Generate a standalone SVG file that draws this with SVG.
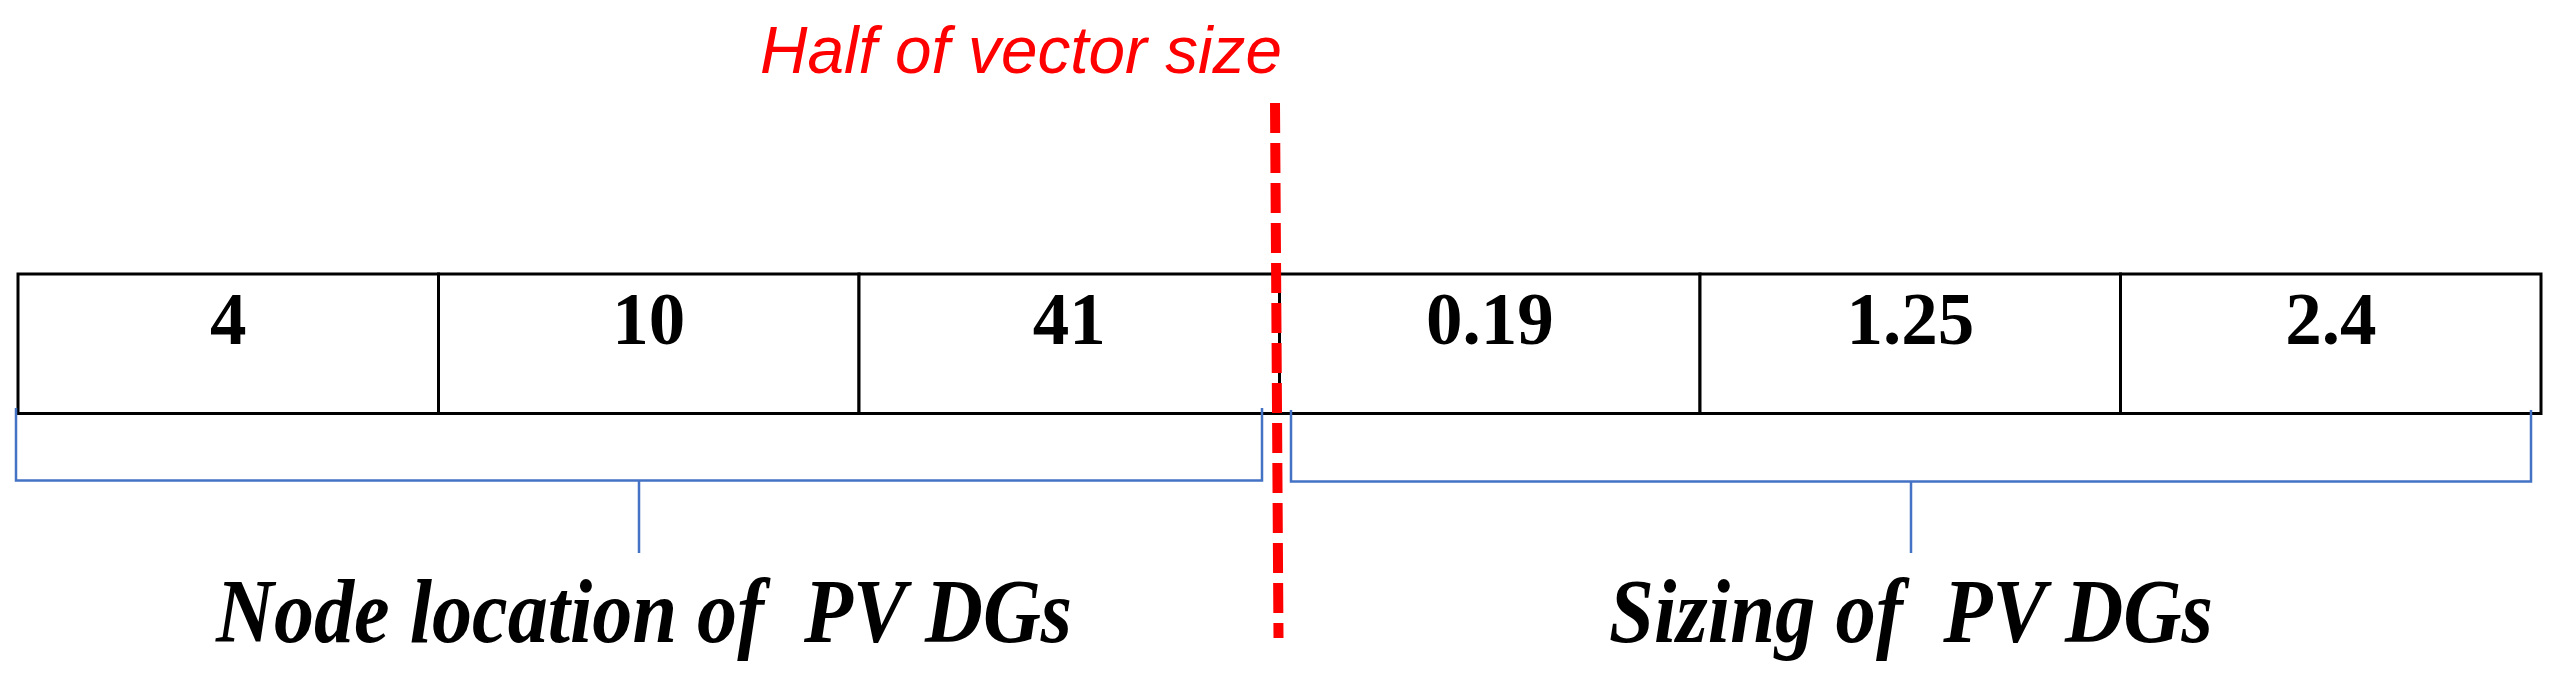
<svg xmlns="http://www.w3.org/2000/svg" width="2574" height="687" viewBox="0 0 2574 687">
  <style>
    .cell { fill: #ffffff; stroke: #000000; stroke-width: 3; }
    .num { font-family: "Liberation Serif", "Times New Roman", serif; font-weight: bold; font-size: 73px; fill: #000000; text-anchor: middle; }
    .brace { fill: none; stroke: #4472C4; stroke-width: 2.5; }
    .label { font-family: "Liberation Serif", "Times New Roman", serif; font-weight: bold; font-style: italic; font-size: 90px; fill: #000000; text-anchor: start; }
    .half { font-family: "Liberation Sans", Arial, sans-serif; font-style: italic; font-size: 66px; fill: #FF0000; text-anchor: start; }
    .divider { fill: none; stroke: #FF0000; stroke-width: 10; stroke-dasharray: 30 10; }
  </style>
  <rect width="2574" height="687" fill="#ffffff"/>

  <g id="cell-1">
    <rect class="cell" x="18" y="274" width="420.5" height="139.5"/>
    <text class="num" x="228.25" y="344">4</text>
  </g>
  <g id="cell-2">
    <rect class="cell" x="438.5" y="274" width="420.5" height="139.5"/>
    <text class="num" x="648.75" y="344">10</text>
  </g>
  <g id="cell-3">
    <rect class="cell" x="859" y="274" width="420.5" height="139.5"/>
    <text class="num" x="1069.25" y="344">41</text>
  </g>
  <g id="cell-4">
    <rect class="cell" x="1279.5" y="274" width="420.5" height="139.5"/>
    <text class="num" x="1489.75" y="344">0.19</text>
  </g>
  <g id="cell-5">
    <rect class="cell" x="1700" y="274" width="420.5" height="139.5"/>
    <text class="num" x="1910.25" y="344">1.25</text>
  </g>
  <g id="cell-6">
    <rect class="cell" x="2120.5" y="274" width="420.5" height="139.5"/>
    <text class="num" x="2330.75" y="344">2.4</text>
  </g>

  <g id="connectors">
    <path class="brace" d="M16,408 V480.5 H1262 V408 M639,480.5 V553"/>
    <path class="brace" d="M1291,410 V481.5 H2531 V410 M1911,481.5 V553"/>
  </g>

  <g id="label-location">
    <text class="label" x="216" y="642" textLength="856" lengthAdjust="spacingAndGlyphs" xml:space="preserve">Node location of  PV DGs</text>
  </g>
  <g id="label-sizing">
    <text class="label" x="1609" y="642" textLength="604" lengthAdjust="spacingAndGlyphs" xml:space="preserve">Sizing of  PV DGs</text>
  </g>

  <g id="half-marker">
    <line class="divider" x1="1275" y1="103" x2="1278.5" y2="638"/>
    <text class="half" x="760" y="73" textLength="522" lengthAdjust="spacingAndGlyphs">Half of vector size</text>
  </g>
</svg>
